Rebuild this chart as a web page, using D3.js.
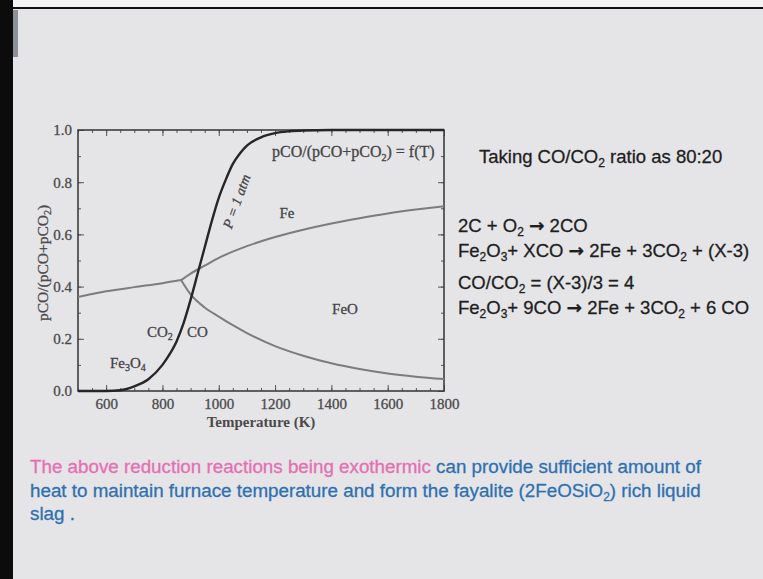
<!DOCTYPE html>
<html>
<head>
<meta charset="utf-8">
<script src="https://cdn.jsdelivr.net/npm/d3@7"></script>
<style>
body { margin: 0; background: #e5e5e8; }
svg { display: block; }
</style>
</head>
<body>
<svg id="slide" width="763" height="579"></svg>
<script>
// values: temperature (K) vs pCO/(pCO+pCO2)
const boudouardTemps = [500, 600, 650, 700, 750, 800, 825, 850, 875, 900, 925, 950, 975, 1000, 1025, 1050, 1075, 1100, 1150, 1200, 1250, 1300, 1400, 1800];
const boudouardRatio = [0, 0, 0.003, 0.018, 0.045, 0.1, 0.14, 0.19, 0.26, 0.35, 0.45, 0.55, 0.65, 0.74, 0.81, 0.87, 0.91, 0.94, 0.972, 0.988, 0.995, 0.998, 1.0, 1.0];

const magFeTemps = [500, 550, 600, 700, 800, 866];
const magFeRatio = [0.36, 0.372, 0.382, 0.398, 0.413, 0.425];

const wusFeTemps = [866, 900, 950, 1000, 1100, 1200, 1300, 1400, 1500, 1600, 1700, 1800];
const wusFeRatio = [0.425, 0.45, 0.48, 0.51, 0.555, 0.59, 0.618, 0.642, 0.662, 0.68, 0.695, 0.708];

const magWusTemps = [866, 900, 950, 1000, 1050, 1100, 1200, 1300, 1400, 1500, 1600, 1700, 1800];
const magWusRatio = [0.425, 0.37, 0.32, 0.285, 0.252, 0.222, 0.172, 0.135, 0.106, 0.084, 0.067, 0.055, 0.046];

const xTicks = [600, 800, 1000, 1200, 1400, 1600, 1800];
const yTicks = [0, 0.2, 0.4, 0.6, 0.8, 1.0];

// text pieces, [text, "sub"] marks a subscript, "arrow" the reaction arrow
const rightTitle = [["Taking CO/CO"], ["2", "sub"], [" ratio as 80:20"]];
const eqLines = [
    [["2C + O"], ["2", "sub"], [" "], ["\u2192", "arrow"], [" 2CO"]],
    [["Fe"], ["2", "sub"], ["O"], ["3", "sub"], ["+ XCO "], ["\u2192", "arrow"], [" 2Fe + 3CO"], ["2", "sub"], [" + (X-3)"]],
    [["CO/CO"], ["2", "sub"], [" = (X-3)/3 = 4"]],
    [["Fe"], ["2", "sub"], ["O"], ["3", "sub"], ["+ 9CO "], ["\u2192", "arrow"], [" 2Fe + 3CO"], ["2", "sub"], [" + 6 CO"]]
];
const noteLines = [
    [["The above reduction reactions being exothermic", "pink"], [" can provide sufficient amount of"]],
    [["heat to maintain furnace temperature and form the fayalite (2FeOSiO"], ["2", "sub"], [") rich liquid"]],
    [["slag ."]]
];

var svg = d3.select("svg#slide");

// slide frame bits
svg.append("rect").attr("x", 0).attr("y", 0).attr("width", 763).attr("height", 7).attr("fill", "#f4f4f4");
svg.append("rect").attr("x", 0).attr("y", 7).attr("width", 763).attr("height", 2).attr("fill", "#111");
svg.append("rect").attr("x", 0).attr("y", 0).attr("width", 13).attr("height", 579).attr("fill", "#0c0c0c");
svg.append("rect").attr("x", 13).attr("y", 10).attr("width", 5).attr("height", 47).attr("fill", "#8b9099");

// writes a line of text with subscripts
function richText(parent, parts, x, y, font, size, colors) {
    var t = parent.append("text")
        .attr("x", x).attr("y", y)
        .style("font-family", font)
        .style("font-size", size + "px")
        .attr("stroke-width", 0.3);
    var shift = Math.round(size * 0.22);
    var down = false;
    parts.forEach(p => {
        var s = t.append("tspan").text(p[0]);
        if (p[1] === "sub") {
            s.attr("dy", down ? 0 : shift).style("font-size", Math.round(size * 0.65) + "px");
            down = true;
        } else {
            if (down) s.attr("dy", -shift);
            down = false;
        }
        if (p[1] === "arrow") {
            s.style("font-family", "'DejaVu Sans', sans-serif").style("font-weight", "bold");
        }
        var c = p[1] === "pink" ? colors[1] : colors[0];
        s.attr("fill", c).attr("stroke", c);
    });
    return t;
}

// ---- the chart ----
var x = d3.scaleLinear().domain([500, 1800]).range([78, 444]);
var y = d3.scaleLinear().domain([0, 1]).range([391, 130]);
var serif = "'Liberation Serif', 'Times New Roman', serif";

var chart = svg.append("g");

var minorX = d3.range(500, 1801, 50);
var minorY = d3.range(0, 1.001, 0.1);

function styleAxis(g) {
    g.select(".domain").remove();
    g.selectAll("line").attr("stroke", "#555").attr("stroke-width", 1);
    g.selectAll("text").style("font-family", serif).style("font-size", "15px")
        .attr("fill", "#4a4a4a").attr("stroke", "#4a4a4a").attr("stroke-width", 0.3);
}

chart.append("g").attr("transform", `translate(0,${y(0)})`)
    .call(d3.axisBottom(x).tickValues(minorX).tickSize(-3).tickFormat(""))
    .call(styleAxis);
chart.append("g").attr("transform", `translate(0,${y(0)})`)
    .call(d3.axisBottom(x).tickValues(xTicks).tickSize(-6).tickPadding(7).tickFormat(d3.format("d")))
    .call(styleAxis);
chart.append("g").attr("transform", `translate(0,${y(1)})`)
    .call(d3.axisTop(x).tickValues(minorX).tickSize(-3).tickFormat(""))
    .call(styleAxis);
chart.append("g").attr("transform", `translate(0,${y(1)})`)
    .call(d3.axisTop(x).tickValues(xTicks).tickSize(-6).tickFormat(""))
    .call(styleAxis);
chart.append("g").attr("transform", `translate(${x(500)},0)`)
    .call(d3.axisLeft(y).tickValues(minorY).tickSize(-3).tickFormat(""))
    .call(styleAxis);
chart.append("g").attr("transform", `translate(${x(500)},0)`)
    .call(d3.axisLeft(y).tickValues(yTicks).tickSize(-6).tickPadding(6).tickFormat(d3.format(".1f")))
    .call(styleAxis);
chart.append("g").attr("transform", `translate(${x(1800)},0)`)
    .call(d3.axisRight(y).tickValues(minorY).tickSize(-3).tickFormat(""))
    .call(styleAxis);
chart.append("g").attr("transform", `translate(${x(1800)},0)`)
    .call(d3.axisRight(y).tickValues(yTicks).tickSize(-6).tickFormat(""))
    .call(styleAxis);

chart.append("rect")
    .attr("x", x(500)).attr("y", y(1))
    .attr("width", x(1800) - x(500)).attr("height", y(0) - y(1))
    .attr("fill", "none").attr("stroke", "#3e3e3e").attr("stroke-width", 1.6);

var line = d3.line().x(d => x(d[0])).y(d => y(d[1])).curve(d3.curveMonotoneX);

function drawCurve(temps, ratios, color, w) {
    chart.append("path")
        .datum(d3.zip(temps, ratios))
        .attr("d", line)
        .attr("fill", "none")
        .attr("stroke", color)
        .attr("stroke-width", w)
        .attr("stroke-linejoin", "round");
}

drawCurve(magFeTemps, magFeRatio, "#7c7c7c", 2);
drawCurve(wusFeTemps, wusFeRatio, "#7c7c7c", 2);
drawCurve(magWusTemps, magWusRatio, "#7c7c7c", 2);
drawCurve(boudouardTemps, boudouardRatio, "#262626", 2.4);

// axis titles
chart.append("text")
    .attr("x", (x(500) + x(1800)) / 2).attr("y", 427)
    .attr("text-anchor", "middle")
    .style("font-family", serif).style("font-size", "15px").style("font-weight", "bold")
    .attr("fill", "#4a4a4a")
    .text("Temperature (K)");

var yt = richText(chart.append("g").attr("transform", "translate(48,263) rotate(-90)"),
    [["pCO/(pCO+pCO"], ["2", "sub"], [")"]], 0, 0, serif, 15.5, ["#4a4a4a"]);
yt.attr("text-anchor", "middle");

// labels inside the plot
var lab = "#444";
richText(chart, [["pCO/(pCO+pCO"], ["2", "sub"], [") = f(T)"]], 272, 157, serif, 16, [lab]);
chart.append("text")
    .attr("transform", "translate(241,203) rotate(-70)")
    .attr("text-anchor", "middle")
    .style("font-family", serif).style("font-size", "14px").style("font-style", "italic")
    .attr("fill", lab).attr("stroke", lab).attr("stroke-width", 0.3).text("P = 1 atm");
chart.append("text").attr("x", 287).attr("y", 218).attr("text-anchor", "middle")
    .style("font-family", serif).style("font-size", "15px")
    .attr("fill", lab).attr("stroke", lab).attr("stroke-width", 0.3).text("Fe");
chart.append("text").attr("x", 345).attr("y", 314).attr("text-anchor", "middle")
    .style("font-family", serif).style("font-size", "15px")
    .attr("fill", lab).attr("stroke", lab).attr("stroke-width", 0.3).text("FeO");
richText(chart, [["CO"], ["2", "sub"]], 147, 337, serif, 15, [lab]);
richText(chart, [["CO"]], 187, 337, serif, 15, [lab]);
richText(chart, [["Fe"], ["3", "sub"], ["O"], ["4", "sub"]], 110, 368, serif, 15, [lab]);

// ---- right hand text ----
var sans = "'Liberation Sans', Arial, sans-serif";
richText(svg, rightTitle, 479, 163, sans, 18.5, ["#1e1e1e"]);
var eqY = [232, 257, 289, 314];
eqLines.forEach((parts, i) => richText(svg, parts, 458, eqY[i], sans, 18.5, ["#1e1e1e"]));

// ---- note under the chart ----
var noteY = [473, 497, 520];
noteLines.forEach((parts, i) => richText(svg, parts, 30, noteY[i], sans, 18.8, ["#2f70b0", "#e46fb2"]));
</script>
</body>
</html>
